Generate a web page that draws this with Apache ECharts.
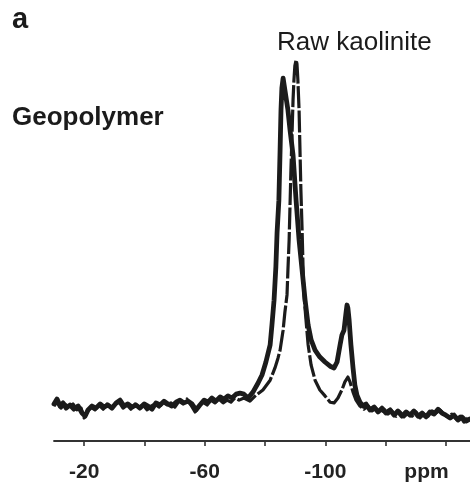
<!DOCTYPE html>
<html>
<head>
<meta charset="utf-8">
<script src="https://cdn.jsdelivr.net/npm/echarts@6/dist/echarts.min.js"></script>
<style>
html,body{margin:0;padding:0;background:#fff;}
#chart{width:470px;height:488px;}
</style>
</head>
<body>
<div id="chart"></div>
<script>
// chemical shift (ppm) and relative intensity
const geoPpm = [-10.0,-11.0,-12.0,-13.0,-14.0,-15.3,-16.6,-18.0,-19.3,-20.3,-21.3,-22.6,-23.9,-25.3,-26.6,-27.9,-29.2,-30.6,-31.9,-33.2,-34.5,-35.9,-37.2,-38.5,-39.9,-41.2,-42.5,-43.8,-45.2,-46.5,-47.8,-49.1,-50.5,-51.8,-53.1,-54.5,-55.8,-57.1,-58.4,-59.8,-61.1,-62.4,-63.7,-65.1,-66.4,-67.7,-69.0,-70.4,-71.7,-73.0,-74.4,-76.0,-77.7,-79.0,-80.3,-81.7,-82.3,-83.0,-83.6,-84.0,-84.6,-85.0,-85.3,-85.6,-86.0,-86.3,-86.6,-87.6,-88.3,-89.3,-90.3,-91.3,-92.3,-93.3,-94.3,-95.3,-96.6,-98.2,-99.9,-101.6,-102.9,-103.9,-104.9,-105.5,-106.2,-106.9,-107.2,-107.5,-107.9,-108.5,-109.2,-109.8,-110.5,-111.5,-112.5,-113.5,-114.8,-116.2,-117.5,-118.8,-120.1,-121.5,-122.8,-124.1,-125.4,-126.8,-128.1,-129.4,-130.8,-132.1,-133.4,-134.7,-136.1,-137.4,-138.7,-140.0,-141.4,-142.7,-144.0,-145.3,-146.7,-148.0];
const geoInt = [1.6,3.0,1.0,1.9,0.4,1.3,0.1,1.0,-1.0,-1.9,-0.1,1.0,0.4,1.6,0.7,1.3,0.4,1.9,2.7,1.0,1.6,0.7,1.3,0.4,1.6,1.0,0.1,1.9,1.3,2.4,1.6,1.0,2.1,2.7,1.9,2.4,1.6,-0.1,1.3,2.7,2.1,3.3,2.4,3.6,3.0,3.9,3.3,4.4,4.7,4.4,3.3,5.0,7.6,9.9,13.6,18.5,24.2,31.3,40.8,50.6,59.9,74.2,85.7,92.0,94.8,94.3,91.4,85.7,80.0,72.8,59.9,48.5,39.9,31.3,24.2,19.9,17.0,15.0,13.6,12.4,11.9,13.6,18.5,21.3,22.7,27.9,29.9,29.0,25.6,18.5,11.9,7.0,4.1,2.1,1.0,1.6,-0.1,0.7,-0.7,0.4,-1.0,-0.1,-1.6,-0.4,-1.9,-0.7,-1.6,-0.4,-1.9,-1.0,-2.1,-0.7,-1.3,0.1,-1.0,-1.6,-2.4,-1.6,-3.0,-2.1,-3.3,-2.7];
const rawPpm = [-10.0,-11.0,-12.3,-13.6,-15.0,-16.3,-17.6,-19.0,-20.0,-20.9,-22.3,-23.6,-24.9,-26.3,-27.6,-28.9,-30.2,-31.6,-32.9,-34.2,-35.5,-36.9,-38.2,-39.5,-40.9,-42.2,-43.5,-44.8,-46.2,-47.5,-48.8,-50.1,-51.5,-52.8,-54.1,-55.4,-56.8,-58.1,-59.4,-60.8,-62.1,-63.4,-64.7,-66.1,-67.4,-68.7,-70.0,-71.4,-73.0,-75.0,-77.0,-79.3,-81.7,-83.3,-84.3,-85.0,-86.0,-86.6,-87.3,-87.6,-88.0,-88.3,-88.6,-89.0,-89.3,-89.6,-89.9,-90.3,-90.6,-90.9,-91.3,-91.6,-91.9,-92.3,-92.6,-92.9,-93.6,-94.3,-95.3,-96.6,-98.2,-99.9,-101.6,-102.9,-104.2,-105.5,-106.5,-107.5,-108.2,-109.2,-110.2,-111.5,-112.8,-114.2,-115.5,-116.8,-118.1,-119.5,-120.8,-122.1,-123.5,-124.8,-126.1,-127.4,-128.8,-130.1,-131.4,-132.7,-134.1,-135.4,-136.7,-138.0,-139.4,-140.7,-142.0,-143.4,-144.7,-146.0,-147.3];
const rawInt = [1.0,2.1,0.4,1.6,0.7,1.6,-0.1,0.4,-2.4,-0.7,0.7,-0.1,1.3,0.1,1.6,0.7,1.3,2.1,0.4,1.3,0.1,1.6,0.7,1.3,-0.1,1.0,1.6,0.7,2.1,1.3,1.9,0.7,2.4,1.6,3.0,1.3,-0.7,1.0,2.1,1.3,2.7,1.9,3.0,1.9,2.7,2.1,3.3,2.7,3.3,2.4,4.1,5.6,8.4,11.9,14.7,17.0,22.7,27.9,32.8,39.9,48.5,58.5,68.5,80.0,88.6,94.3,98.3,100.0,98.9,94.3,85.7,74.2,62.8,51.4,41.3,32.8,25.6,18.5,12.7,8.4,5.6,3.9,2.1,1.9,3.3,5.6,7.9,9.3,7.9,5.0,2.7,1.0,0.1,1.0,-0.4,0.4,-1.0,0.1,-1.3,-0.4,-1.9,-0.7,-2.1,-1.0,-1.9,-0.7,-2.4,-1.3,-1.9,-0.4,-1.0,-0.1,-1.3,-2.1,-1.3,-2.7,-1.9,-3.6,-2.4];
const tickValues = [-20,-40,-60,-80,-100,-120,-140];
const labelValues = [-20,-60,-100];
const unitLabel = 'ppm';
const panelLabel = 'a';
const seriesNames = ['Geopolymer','Raw kaolinite'];

const zip = (xs, ys) => xs.map((x, i) => [x, ys[i]]);
const FONT = '"Liberation Sans", Arial, Helvetica, sans-serif';
const INK = '#1b1b1b';

const chart = echarts.init(document.getElementById('chart'), null, {renderer: 'canvas'});
chart.setOption({
  animation: false,
  backgroundColor: '#ffffff',
  grid: {left: 54, right: 0, top: 60, bottom: 47, containLabel: false},
  xAxis: {
    type: 'value', min: -148, max: -10, inverse: true,
    axisLine: {show: true, onZero: false, lineStyle: {color: '#333', width: 1.8}},
    axisTick: {show: true, customValues: tickValues, length: 5, lineStyle: {color: '#333', width: 1.6}},
    axisLabel: {show: true, customValues: labelValues, margin: 21, color: '#222',
      fontFamily: FONT, fontWeight: 'bold', fontSize: 21},
    splitLine: {show: false}
  },
  yAxis: {
    type: 'value', min: -9, max: 100, show: false,
    splitLine: {show: false}
  },
  series: [
    {name: seriesNames[0], type: 'line', data: zip(geoPpm, geoInt), showSymbol: false, symbol: 'none',
      clip: false, lineStyle: {color: INK, width: 4.8, cap: 'round', join: 'round'}},
    {name: seriesNames[1], type: 'line', data: zip(rawPpm, rawInt), showSymbol: false, symbol: 'none',
      clip: false, lineStyle: {color: INK, width: 3.2, type: [22, 2.5], cap: 'butt', join: 'round'}}
  ],
  graphic: [
    {type: 'text', x: 12, y: 19.5, style: {text: panelLabel, font: 'bold 29px ' + FONT, fill: INK,
      align: 'left', verticalAlign: 'middle', textAlign: 'left', textVerticalAlign: 'middle'}},
    {type: 'text', x: 277, y: 43, style: {text: seriesNames[1], font: '26px ' + FONT, fill: INK,
      align: 'left', verticalAlign: 'middle', textAlign: 'left', textVerticalAlign: 'middle'}},
    {type: 'text', x: 12, y: 118, style: {text: seriesNames[0], font: 'bold 26px ' + FONT, fill: INK,
      align: 'left', verticalAlign: 'middle', textAlign: 'left', textVerticalAlign: 'middle'}},
    {type: 'text', x: 426.5, y: 472, style: {text: unitLabel, font: 'bold 21px ' + FONT, fill: '#222',
      align: 'center', verticalAlign: 'middle', textAlign: 'center', textVerticalAlign: 'middle'}}
  ]
});
</script>
</body>
</html>
